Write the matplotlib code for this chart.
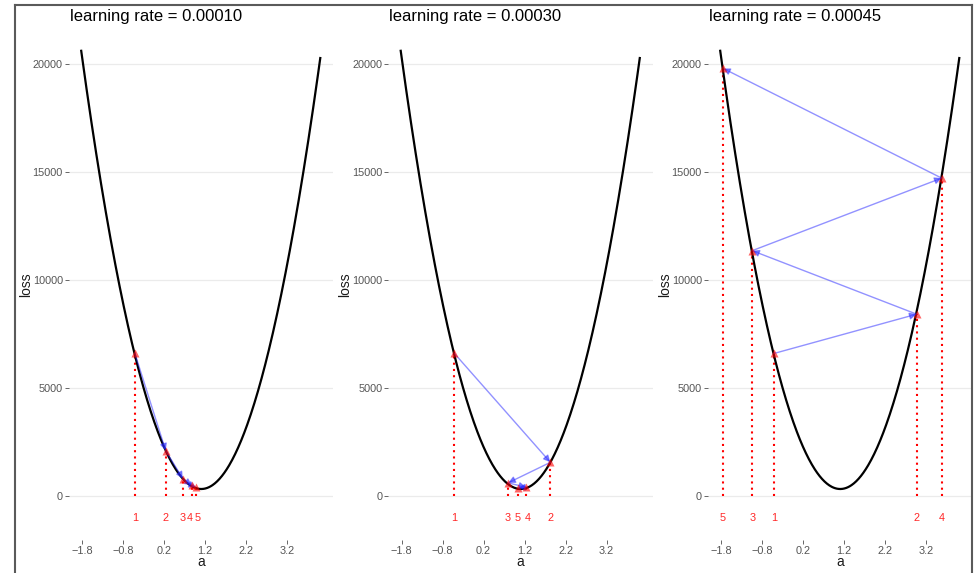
import matplotlib
matplotlib.use("Agg")
import matplotlib.pyplot as plt
from matplotlib.lines import Line2D
import numpy as np

plt.rcParams['font.family'] = ['Liberation Sans', 'DejaVu Sans']

# ---------------- data ----------------
titles = ["learning rate = 0.00010", "learning rate = 0.00030", "learning rate = 0.00045"]

# points (a, loss)
curve_a = [-1.82, -0.51, 0.24, 1.10, 1.83, 2.97, 3.58, 4.01]
curve_loss = [20560, 6600, 2100, 370, 1560, 8420, 14720, 20420]

# gradient-descent steps for each learning rate
steps_a_lr1 = [-0.51, 0.24, 0.66, 0.88, 0.98]
steps_loss_lr1 = [6600, 2100, 800, 490, 405]

steps_a_lr2 = [-0.51, 1.83, 0.80, 1.24, 1.04]
steps_loss_lr2 = [6600, 1560, 610, 405, 390]

steps_a_lr3 = [-0.51, 2.97, -1.04, 3.58, -1.75]
steps_loss_lr3 = [6600, 8420, 11360, 14720, 19800]

x_ticks = [-1.8, -0.8, 0.2, 1.2, 2.2, 3.2]
x_tick_labels = ["\u22121.8", "\u22120.8", "0.2", "1.2", "2.2", "3.2"]
y_ticks = [0, 5000, 10000, 15000, 20000]
y_tick_labels = ["0", "5000", "10000", "15000", "20000"]
step_label_y = -1000

steps = [(steps_a_lr1, steps_loss_lr1), (steps_a_lr2, steps_loss_lr2), (steps_a_lr3, steps_loss_lr3)]
# small horizontal nudges (points) so that crowded step numbers don't collide
label_nudges = [[0, 0, 0, -1.3, 1.3], [0, 0, -0.6, 0.9, 0], [0, 0, 0, 0, 0]]

# ---------------- figure ----------------
W, H = 974, 573
fig = plt.figure(figsize=(W / 100, H / 100), dpi=100)

xlim = (-2.13, 4.33)
ylim = (-2050, 21600)
panel_lefts = [68.5, 388.0, 707.5]
panel_w = 264.9
panel_top, panel_bot = 29.5, 540.3

coef = np.polyfit(curve_a, curve_loss, 2)
a_grid = np.linspace(min(curve_a), max(curve_a), 400)

for i, L in enumerate(panel_lefts):
    ax = fig.add_axes([L / W, (H - panel_bot) / H, panel_w / W, (panel_bot - panel_top) / H])
    ax.set_xlim(*xlim)
    ax.set_ylim(*ylim)
    for s in ax.spines.values():
        s.set_visible(False)
    ax.set_xticks(x_ticks)
    ax.set_xticklabels(x_tick_labels)
    ax.set_yticks(y_ticks)
    ax.set_yticklabels(y_tick_labels)
    ax.yaxis.grid(True, color='#EBEBEB', lw=0.9)
    ax.xaxis.grid(False)
    ax.set_axisbelow(True)
    ax.tick_params(length=2.6, width=0.7, color='#666666', labelsize=7.8,
                   labelcolor='#555555', pad=1.5)

    # loss curve
    ax.plot(a_grid, np.polyval(coef, a_grid), color='black', lw=1.6, zorder=3)

    sa, sl = steps[i]
    # dotted verticals
    ax.vlines(sa, 0, sl, colors='red', linestyles=(0, (1, 2)), lw=1.5, zorder=2)
    # step numbers
    for k, (xa, yl) in enumerate(zip(sa, sl)):
        ax.annotate(str(k + 1), xy=(xa, step_label_y), xytext=(label_nudges[i][k], 0),
                    textcoords='offset points', color='red', ha='center', va='center',
                    fontsize=7.8, alpha=0.85)
    # arrows
    for k in range(len(sa) - 1):
        ax.annotate('', xy=(sa[k + 1], sl[k + 1]), xytext=(sa[k], sl[k]),
                    arrowprops=dict(arrowstyle='-|>', color=(0.15, 0.15, 1.0, 0.5), lw=1.0,
                                    mutation_scale=10, shrinkA=0, shrinkB=0), zorder=4)
    # markers
    ax.plot(sa, sl, '^', color='red', ms=6, alpha=0.6, zorder=5, mec='none')

    ax.text(0.005, (panel_bot - 17) / (panel_bot - panel_top), titles[i], transform=ax.transAxes,
            fontsize=12, ha='left', va='center')
    ax.text(-0.16, 0.5, 'loss', transform=ax.transAxes, rotation=90, fontsize=10,
            ha='center', va='center', color='#1a1a1a')
    ax.text(0.5, -(562 - panel_bot) / (panel_bot - panel_top), 'a', transform=ax.transAxes,
            fontsize=10, ha='center', va='center', color='#1a1a1a')

# outer frame (left, top, right)
fc = '#5a5a5a'
x0, x1, yt = 15 / W, 972 / W, 1 - 5 / H
fig.add_artist(Line2D([x0, x0], [0, yt], transform=fig.transFigure, color=fc, lw=1.5))
fig.add_artist(Line2D([x0, x1], [yt, yt], transform=fig.transFigure, color=fc, lw=1.5))
fig.add_artist(Line2D([x1, x1], [0, yt], transform=fig.transFigure, color=fc, lw=1.5))

fig.savefig("out.png", dpi=100, facecolor='white')
